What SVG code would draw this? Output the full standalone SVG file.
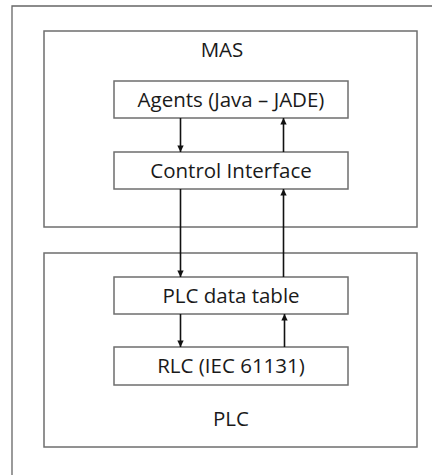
<svg xmlns="http://www.w3.org/2000/svg" width="432" height="475" viewBox="0 0 432 475">
<style>
.frame{fill:none;stroke:#666;stroke-width:1.3}
.box{fill:#fff;stroke:#6e6e6e;stroke-width:1.5}
.grp{fill:none;stroke:#6e6e6e;stroke-width:1.5}
.lbl{font-family:"Open Sans","DejaVu Sans",sans-serif;font-size:20.5px;fill:#1a1a1a;text-anchor:middle}
.conn{stroke:#111;stroke-width:1.6;fill:none;marker-end:url(#ah)}
</style>
<defs>
<marker id="ah" viewBox="0 0 10 10" refX="10" refY="5" markerWidth="4.5" markerHeight="4" orient="auto" markerUnits="strokeWidth">
<path d="M0,0 L10,5 L0,10 z" fill="#111"/>
</marker>
</defs>
<rect width="432" height="475" fill="#fff"/>
<path class="frame" d="M12,475 V6 H432"/>
<g id="mas">
<rect class="grp" x="44" y="31" width="373" height="196"/>
<text class="lbl" x="222" y="57">MAS</text>
</g>
<g id="plc">
<rect class="grp" x="44" y="253" width="373" height="194"/>
<text class="lbl" x="231" y="426">PLC</text>
</g>
<g id="agents">
<rect class="box" x="114" y="81" width="234" height="37"/>
<text class="lbl" x="231" y="107">Agents (Java – JADE)</text>
</g>
<g id="control">
<rect class="box" x="114" y="152" width="234" height="37"/>
<text class="lbl" x="231" y="178">Control Interface</text>
</g>
<g id="datatable">
<rect class="box" x="114" y="277" width="234" height="37"/>
<text class="lbl" x="231" y="303">PLC data table</text>
</g>
<g id="rlc">
<rect class="box" x="114" y="347" width="234" height="38"/>
<text class="lbl" x="231" y="373">RLC (IEC 61131)</text>
</g>
<g id="connectors">
<line class="conn" x1="180.5" y1="118" x2="180.5" y2="152"/>
<line class="conn" x1="283.5" y1="152" x2="283.5" y2="118"/>
<line class="conn" x1="180.5" y1="189" x2="180.5" y2="277"/>
<line class="conn" x1="283.5" y1="277" x2="283.5" y2="189"/>
<line class="conn" x1="180.5" y1="314" x2="180.5" y2="347"/>
<line class="conn" x1="284.5" y1="347" x2="284.5" y2="314"/>
</g>
</svg>
